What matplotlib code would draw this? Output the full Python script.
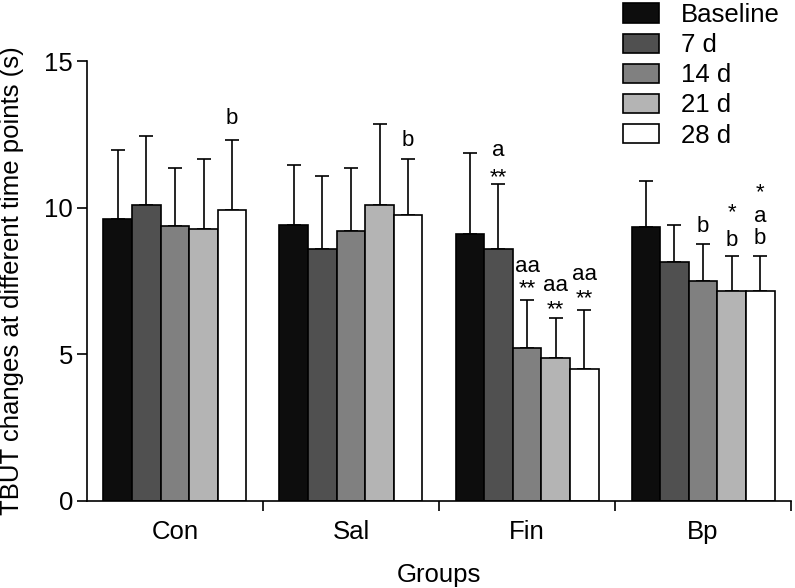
#! /usr/bin/env python3

import matplotlib
matplotlib.use( 'Agg' )
import matplotlib.pyplot as plt
import numpy as np

#----------------------------------------------------------------------------
# Data
#----------------------------------------------------------------------------
groups   = [ 'Con', 'Sal', 'Fin', 'Bp' ]
series   = [ 'Baseline', '7 d', '14 d', '21 d', '28 d' ]

baseline = [ 9.61, 9.42, 9.09, 9.34 ]
day7     = [ 10.09, 8.58, 8.60, 8.14 ]
day14    = [ 9.38, 9.22, 5.22, 7.50 ]
day21    = [ 9.26, 10.11, 4.89, 7.17 ]
day28    = [ 9.92, 9.76, 4.51, 7.17 ]

# upper end of the error bars
baseline_err = [ 11.97, 11.45, 11.86, 10.90 ]
day7_err     = [ 12.44, 11.10, 10.82, 9.41 ]
day14_err    = [ 11.34, 11.34, 6.87, 8.77 ]
day21_err    = [ 11.65, 12.85, 6.25, 8.37 ]
day28_err    = [ 12.30, 11.67, 6.53, 8.35 ]

# significance marks : ( group, series, text, baseline y )
marks = [ ( 0, 4, 'b',  12.86 ),
          ( 1, 4, 'b',  12.12 ),
          ( 2, 1, 'a',  11.76 ), ( 2, 1, '**', 10.84 ),
          ( 2, 2, 'aa', 7.82 ),  ( 2, 2, '**', 7.05 ),
          ( 2, 3, 'aa', 7.17 ),  ( 2, 3, '**', 6.32 ),
          ( 2, 4, 'aa', 7.52 ),  ( 2, 4, '**', 6.71 ),
          ( 3, 2, 'b',  9.16 ),
          ( 3, 3, '*',  9.64 ),  ( 3, 3, 'b',  8.70 ),
          ( 3, 4, '*',  10.31 ), ( 3, 4, 'a',  9.53 ), ( 3, 4, 'b', 8.76 ) ]

colors = [ '#0d0d0d', '#505050', '#808080', '#b4b4b4', '#ffffff' ]

#----------------------------------------------------------------------------
def main():
    plt.rcParams['font.family'] = [ 'Liberation Sans', 'DejaVu Sans' ]
    fs = 18.5

    means = [ baseline, day7, day14, day21, day28 ]
    tops  = [ baseline_err, day7_err, day14_err, day21_err, day28_err ]

    fig = plt.figure( figsize = ( 7.95, 5.88 ), dpi = 100 )
    ax  = fig.add_axes( [ 0.1094, 0.148, 0.8856, 0.748 ] )

    width = 0.1625
    x0    = np.arange( len( groups ) ) + 0.5 - 2 * width

    for i, name in enumerate( series ) :
        x   = x0 + i * width
        m   = np.array( means[i] )
        err = np.array( tops[i] ) - m
        ax.bar( x, m, width = width, color = colors[i], edgecolor = 'black',
                linewidth = 1.2, label = name, zorder = 2 )
        ax.errorbar( x, m, yerr = [ np.zeros_like( err ), err ], fmt = 'none',
                     ecolor = 'black', elinewidth = 1.2, capsize = 5.2,
                     capthick = 1.2, zorder = 1 )

    for g, s, txt, y in marks :
        ax.text( x0[g] + s * width, y, txt, ha = 'center', va = 'baseline',
                 fontsize = 16 )

    ax.set_xlim( 0, 4 )
    ax.set_ylim( 0, 15 )
    ax.set_yticks( [ 0, 5, 10, 15 ] )
    ax.set_xticks( [ 1, 2, 3, 4 ] )
    ax.set_xticklabels( [] )
    ax.set_xticks( np.arange( 4 ) + 0.5, minor = True )
    ax.set_xticklabels( groups, minor = True, fontsize = fs )
    ax.tick_params( axis = 'x', which = 'minor', length = 0, pad = 13.5 )
    ax.tick_params( axis = 'x', which = 'major', length = 7, width = 1.2 )
    ax.tick_params( axis = 'y', length = 7, width = 1.2, labelsize = fs,
                    pad = 3 )

    for side in [ 'top', 'right' ] :
        ax.spines[side].set_visible( False )
    for side in [ 'left', 'bottom' ] :
        ax.spines[side].set_linewidth( 1.2 )

    ax.set_xlabel( 'Groups', fontsize = fs, labelpad = 14 )
    ax.set_ylabel( 'TBUT changes at different time points (s)', fontsize = fs )
    ax.yaxis.set_label_coords( -0.0895, 0.5 )

    ax.legend( loc = 'upper left', bbox_to_anchor = ( 0.7836, 0.995 ),
               bbox_transform = fig.transFigure, frameon = False,
               fontsize = fs, handlelength = 1.4, handleheight = 0.78,
               labelspacing = 0.24, handletextpad = 0.86, borderpad = 0,
               borderaxespad = 0 )

    fig.savefig( 'out.png', dpi = 100 )

#----------------------------------------------------------------------------
if __name__ == "__main__":
    main()
